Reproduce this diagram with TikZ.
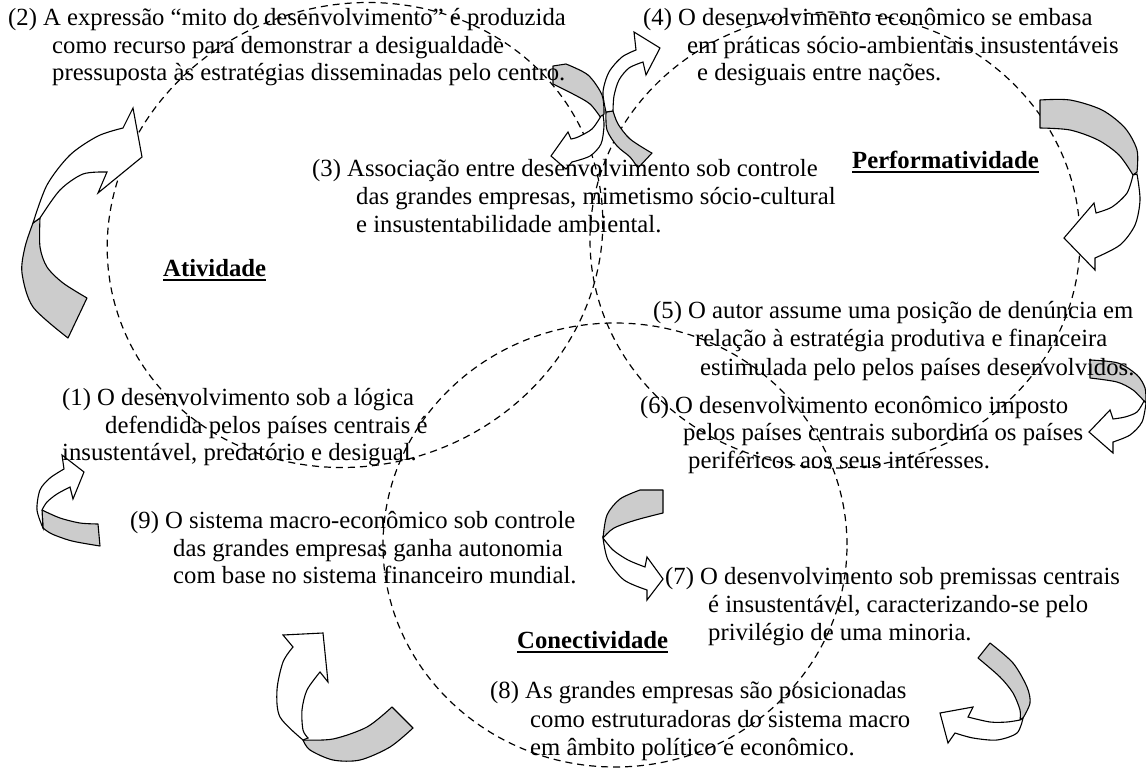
\documentclass[tikz,border=0pt]{standalone}
\usepackage{fontspec}
\setmainfont{Liberation Serif}
\begin{document}
\begin{tikzpicture}[x=1pt,y=-1pt,
  circ/.style={line width=1.2pt, dash pattern=on 7pt off 5pt},
  txt/.style={anchor=base west, inner sep=0pt, font=\fontsize{24.7}{28}\selectfont},
  lbl/.style={anchor=base west, inner sep=0pt, font=\fontsize{24.7}{28}\selectfont\bfseries},
  uline/.style={line width=2pt},
  backband/.style={draw=black, fill=black!20, line width=1.1pt, line join=round},
  frontband/.style={draw=black, fill=white, line width=1.1pt, line join=miter}]
\useasboundingbox (0,0) rectangle (1146,768);

% dashed circles
\draw[circ, rotate around={20:(355,235)}] (355,235) ellipse [x radius=250pt, y radius=230pt];
\draw[circ] (835,240) ellipse [x radius=245pt, y radius=228pt];
\draw[circ] (615,545) ellipse [x radius=232pt, y radius=222pt];

% curved arrows
% L1
\filldraw[backband] plot[smooth] coordinates {(33,223)(25,247)(22,273)(33,307)(68,338)} -- plot[smooth] coordinates {(87,298)(63,283)(47,267)(40,247)(40,218)} -- cycle;
\filldraw[frontband] plot[smooth] coordinates {(33,223)(47,185)(70,155)(98,136)(123,128)} -- (133,108) -- (142,157) -- (98,193) -- plot[smooth] coordinates {(107,172)(83,174)(60,190)(40,218)} -- cycle;
% T1
\filldraw[backband] (553,66) -- plot[smooth] coordinates {(553,84)(573,94)(590,104)(601,118)} -- plot[smooth] coordinates {(604,114)(602,95)(588,75)(566,64)} -- cycle;
\filldraw[frontband] plot[smooth] coordinates {(601,116)(592,129)(578,137)(571,139)} -- (568,132) -- (551,156) -- (566,169) -- plot[smooth] coordinates {(572,162)(590,156)(601,144)(604,126)(603,115)} -- cycle;
% T2
\filldraw[backband] plot[smooth] coordinates {(606,112)(607,130)(617,146)(630,157)(638,168)} -- (652,153) -- plot[smooth] coordinates {(650,152)(630,139)(618,124)(613,111)} -- cycle;
\filldraw[frontband] plot[smooth] coordinates {(606,112)(603,92)(609,72)(622,57)(636,50)} -- (634,32) -- (660,48) -- (646,75) -- plot[smooth] coordinates {(643,62)(629,68)(619,80)(614,96)(613,111)} -- cycle;
% R1
\filldraw[backband] (1040,100) -- (1040,128) -- plot[smooth] coordinates {(1040,128)(1070,130)(1098,140)(1119,155)(1133,175)} -- plot[smooth] coordinates {(1137,172)(1137,150)(1125,128)(1102,110)(1070,100)(1040,100)} -- cycle;
\filldraw[frontband] plot[smooth] coordinates {(1133,175)(1127,193)(1112,207)(1096,213)} -- (1094,203) -- (1064,238) -- (1095,270) -- plot[smooth] coordinates {(1095,258)(1120,245)(1135,225)(1140,200)(1137,174)} -- cycle;
% R2
\filldraw[backband] (1090,360) -- (1090,378) -- plot[smooth] coordinates {(1090,378)(1117,382)(1133,390)(1144,401)} -- plot[smooth] coordinates {(1146,403)(1145,388)(1137,375)(1118,363)(1090,360)} -- cycle;
\filldraw[frontband] plot[smooth] coordinates {(1144,401)(1137,412)(1125,417)(1113,419)} -- (1110,410) -- (1089,432) -- (1113,453) -- plot[smooth] coordinates {(1113,442)(1130,435)(1142,422)(1146,403)} -- cycle;
% M7
\filldraw[backband] (640,490) -- (663,490) -- (663,513) -- plot[smooth] coordinates {(663,513)(636,520)(614,528)(603,538)} -- plot[smooth] coordinates {(603,538)(607,515)(620,499)(640,490)} -- cycle;
\filldraw[frontband] plot[smooth] coordinates {(603,538)(608,560)(624,580)(647,590)} -- (647,600) -- (663,579) -- (647,557) -- plot[smooth] coordinates {(645,567)(628,560)(613,550)(603,538)} -- cycle;
% B8
\filldraw[backband] plot[smooth] coordinates {(990,643)(1013,663)(1027,687)(1030,703)(1023,718)} -- plot[smooth] coordinates {(1020,720)(1020,710)(1013,693)(1000,677)(978,658)} -- cycle;
\filldraw[frontband] plot[smooth] coordinates {(1023,718)(1017,733)(997,740)(973,738)(955,733)} -- (948,743) -- (940,713) -- (973,707) -- plot[smooth] coordinates {(968,717)(990,722)(1007,722)(1020,720)} -- cycle;
% BL
\filldraw[backband] plot[smooth] coordinates {(303,740)(333,739)(367,727)(392,707)} -- (413,728) -- plot[smooth] coordinates {(413,728)(390,747)(360,760)(333,760)(310,750)(303,740)} -- cycle;
\filldraw[frontband] plot[smooth] coordinates {(303,740)(280,717)(277,690)(283,662)(293,647)} -- (283,635) -- (323,633) -- (328,682) -- plot[smooth] coordinates {(320,672)(307,690)(302,710)(303,730)(308,738)} -- cycle;
% L9
\filldraw[backband] plot[smooth] coordinates {(42,510)(60,518)(80,523)(98,524)} -- (100,546) -- plot[smooth] coordinates {(100,546)(72,541)(52,534)(43,528)} -- cycle;
\filldraw[frontband] plot[smooth] coordinates {(43,528)(37,510)(40,490)(50,478)(64,469)} -- (62,455) -- (84,472) -- (73,499) -- plot[smooth] coordinates {(70,487)(57,494)(47,502)(42,510)} -- cycle;

% texts
\node[txt] (t2a) at (8,26) {(2) A expressão “mito do desenvolvimento” é produzida};
\node[txt] (t2b) at (52,54) {como recurso para demonstrar a desigualdade};
\node[txt] (t2c) at (52,81) {pressuposta às estratégias disseminadas pelo centro.};

\node[txt] (t4a) at (643,26) {(4) O desenvolvimento econômico se embasa};
\node[txt] (t4b) at (687,54) {em práticas sócio-ambientais insustentáveis};
\node[txt] (t4c) at (697,81) {e desiguais entre nações.};

\node[txt] (t3a) at (312,176) {(3) Associação entre desenvolvimento sob controle};
\node[txt] (t3b) at (356,204) {das grandes empresas, mimetismo sócio-cultural};
\node[txt] (t3c) at (356,232) {e insustentabilidade ambiental.};

\node[lbl] (perf) at (852,168) {Performatividade};
\draw[uline] ([yshift=-4pt]perf.base west) -- ([yshift=-4pt]perf.base east);
\node[lbl] (ativ) at (163,276) {Atividade};
\draw[uline] ([yshift=-4pt]ativ.base west) -- ([yshift=-4pt]ativ.base east);
\node[lbl] (conec) at (517,648) {Conectividade};
\draw[uline] ([yshift=-4pt]conec.base west) -- ([yshift=-4pt]conec.base east);

\node[txt] (t5a) at (653,318) {(5) O autor assume uma posição de denúncia em};
\node[txt] (t5b) at (695,346) {relação à estratégia produtiva e financeira};
\node[txt] (t5c) at (700,375) {estimulada pelo pelos países desenvolvidos.};

\node[txt] (t1a) at (62,405) {(1) O desenvolvimento sob a lógica};
\node[txt] (t1b) at (105,433) {defendida pelos países centrais é};
\node[txt] (t1c) at (62,460) {insustentável, predatório e desigual.};

\node[txt] (t6a) at (640,413) {(6) O desenvolvimento econômico imposto};
\node[txt] (t6b) at (683,440) {pelos países centrais subordina os países};
\node[txt] (t6c) at (688,468) {periféricos aos seus interesses.};

\node[txt] (t9a) at (130,528) {(9) O sistema macro-econômico sob controle};
\node[txt] (t9b) at (173,556) {das grandes empresas ganha autonomia};
\node[txt] (t9c) at (173,583) {com base no sistema financeiro mundial.};

\node[txt] (t7a) at (665,584) {(7) O desenvolvimento sob premissas centrais};
\node[txt] (t7b) at (708,612) {é insustentável, caracterizando-se pelo};
\node[txt] (t7c) at (708,640) {privilégio de uma minoria.};

\node[txt] (t8a) at (490,698) {(8) As grandes empresas são posicionadas};
\node[txt] (t8b) at (530,727) {como estruturadoras do sistema macro};
\node[txt] (t8c) at (530,755) {em âmbito político e econômico.};
\end{tikzpicture}
\end{document}
